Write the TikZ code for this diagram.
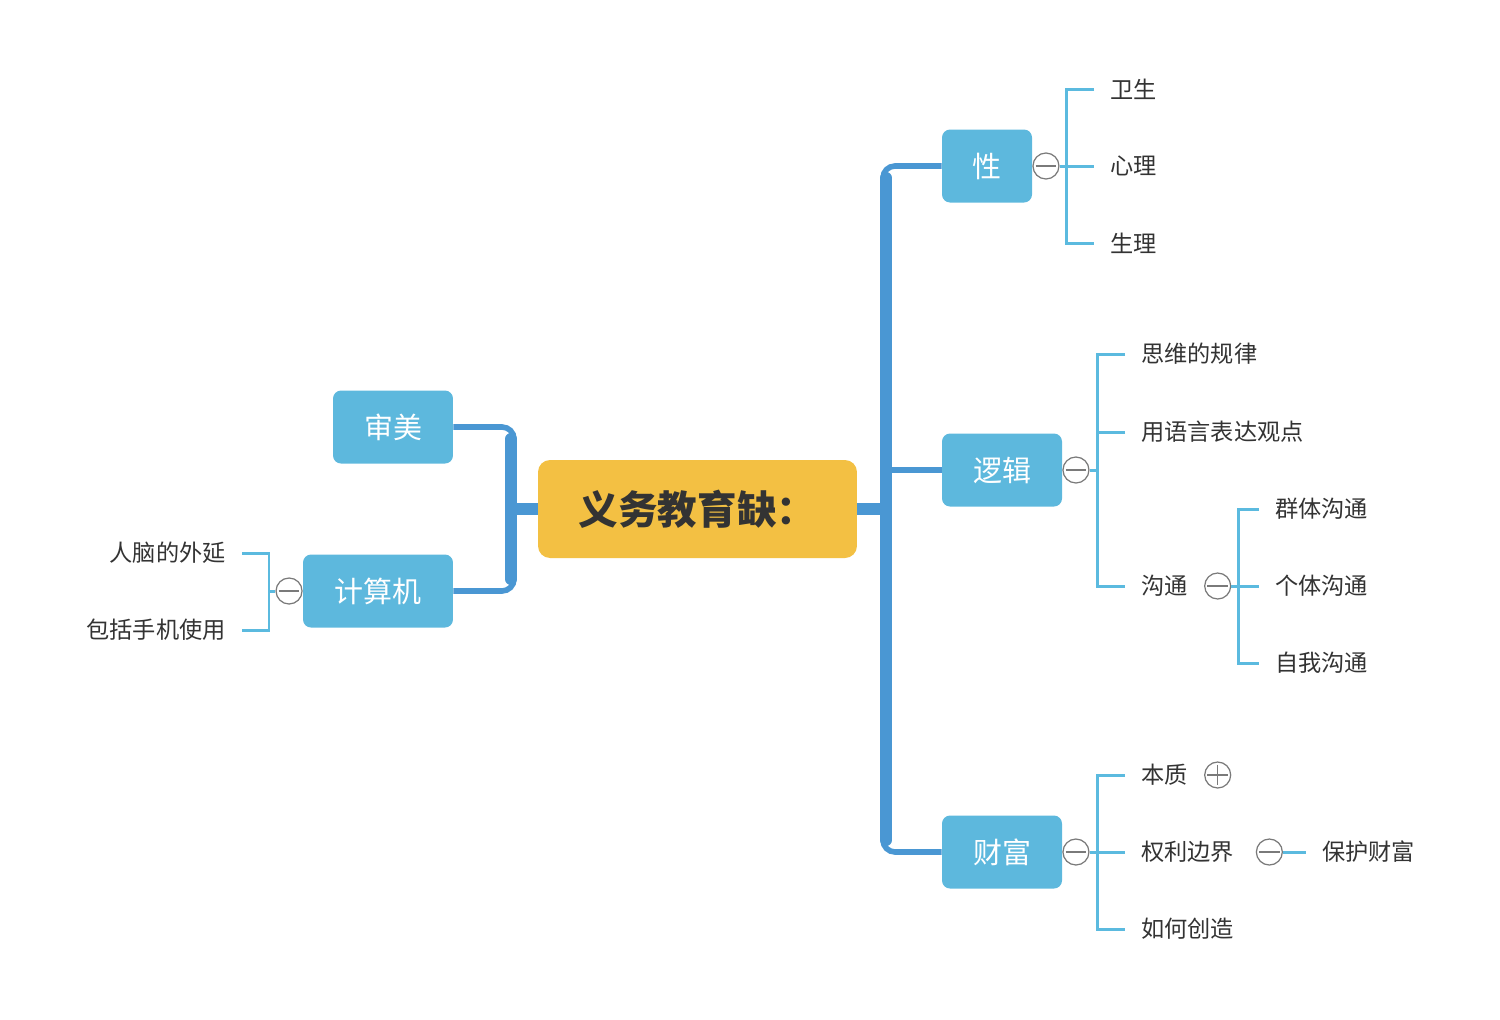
\documentclass[tikz,border=0pt]{standalone}
\usepackage{fontspec}
\setmainfont{Noto Sans CJK SC}
\usetikzlibrary{positioning}

\definecolor{rootyellow}{HTML}{F3C043}
\definecolor{boxblue}{HTML}{5DB8DD}
\definecolor{trunkblue}{HTML}{4A97D3}
\definecolor{twigblue}{HTML}{5BBADF}
\definecolor{textgray}{HTML}{333333}
\definecolor{foldgray}{HTML}{7A7A7A}

\begin{document}
\begin{tikzpicture}[
        x=0.02cm, y=-0.02cm,
        node distance=0pt,
        rootnode/.style={rectangle, rounded corners=0.24cm, fill=rootyellow, text=textgray, font=\fontsize{22.5}{26}\selectfont\bfseries, minimum width=6.38cm, minimum height=1.96cm, inner sep=0pt},
        topicnode/.style={rectangle, rounded corners=0.16cm, fill=boxblue, text=white, font=\fontsize{16.5}{20}\selectfont, minimum height=1.46cm, inner sep=0pt},
        leafnode/.style={inner xsep=0.32cm, inner ysep=0pt, text=textgray, font=\fontsize{13.2}{16}\selectfont},
        foldnode/.style={circle, draw=foldgray, fill=white, line width=0.7pt, minimum size=0.52cm, inner sep=0pt},
        foldminus/.style={foldnode, path picture={\draw[foldgray, line width=0.7pt] ([xshift=1.5pt]path picture bounding box.west) -- ([xshift=-1.5pt]path picture bounding box.east);}},
        foldplus/.style={foldnode, path picture={\draw[foldgray, line width=0.7pt] ([xshift=1.5pt]path picture bounding box.west) -- ([xshift=-1.5pt]path picture bounding box.east) ([yshift=-1.5pt]path picture bounding box.north) -- ([yshift=1.5pt]path picture bounding box.south);}},
        stem/.style={draw=trunkblue, line width=6.8pt},
        trunk/.style={draw=trunkblue, line width=6.8pt, line cap=round},
        branch/.style={draw=trunkblue, line width=3.2pt, rounded corners=0.24cm},
        twig/.style={draw=twigblue, line width=1.7pt}
    ]

        \useasboundingbox (0,0) rectangle (1500,1019);

        \node [rootnode] (Root) at (697.5,509) {义务教育缺：};

        \node [topicnode, minimum width=2.4cm] (Shenmei) at (393,427) {审美};
        \node [topicnode, minimum width=3.0cm] (Jisuanji) at (378,591) {计算机};
        \node [topicnode, minimum width=1.8cm] (Xing) at (987,166) {性};
        \node [topicnode, minimum width=2.4cm] (Luoji) at (1002,470) {逻辑};
        \node [topicnode, minimum width=2.4cm] (Caifu) at (1002,852) {财富};

        % Left side
        \coordinate (LeftJoint) at (514,509);
        \coordinate (LeftTop) at (510.8,439);
        \coordinate (LeftBottom) at (510.8,579);
        \draw [stem] (Root.west) -- (LeftJoint);
        \draw [branch] (Shenmei.east) -| (LeftJoint) |- (Jisuanji.east);
        \draw [trunk] (LeftTop) -- (LeftBottom);

        \node [foldminus] (Fold0) [left=0pt of Jisuanji] {};
        \node [leafnode, anchor=east] (Rennao) at (242,553) {人脑的外延};
        \node [leafnode, anchor=east] (Baokuo) at (242,630) {包括手机使用};
        \coordinate (Bar0) at (269,591);
        \draw [twig] (Fold0.west) -- (Bar0);
        \draw [twig] (Rennao.east) -| (Bar0) |- (Baokuo.east);

        % Right side
        \coordinate (RightJoint) at (883,509);
        \coordinate (RightTop) at (886.2,178);
        \coordinate (RightBottom) at (886.2,840);
        \draw [stem] (Root.east) -- (RightJoint);
        \draw [branch] (Xing.west) -| (RightJoint) |- (Caifu.west);
        \draw [branch] (Luoji.west) -- (Luoji.west -| RightJoint);
        \draw [trunk] (RightTop) -- (RightBottom);

        % Xing
        \node [foldminus] (Fold1) [right=0pt of Xing] {};
        \node [leafnode, anchor=west] (Weisheng) at (1094,89) {卫生};
        \node [leafnode, anchor=west] (Xinli) at (1094,166) {心理};
        \node [leafnode, anchor=west] (Shengli) at (1094,243) {生理};
        \coordinate (Bar1) at (1066,166);
        \draw [twig] (Fold1.east) -- (Xinli.west);
        \draw [twig] (Weisheng.west) -| (Bar1) |- (Shengli.west);

        % Luoji
        \node [foldminus] (Fold2) [right=0pt of Luoji] {};
        \node [leafnode, anchor=west] (Siwei) at (1125,354) {思维的规律};
        \node [leafnode, anchor=west] (Yuyan) at (1125,432) {用语言表达观点};
        \node [leafnode, anchor=west] (Goutong) at (1125,586) {沟通};
        \coordinate (Bar2) at (1097,470);
        \draw [twig] (Fold2.east) -- (Bar2);
        \draw [twig] (Siwei.west) -| (Bar2) |- (Goutong.west);
        \draw [twig] (Yuyan.west) -- (Yuyan.west -| Bar2);

        \node [foldminus] (Fold3) [right=0pt of Goutong] {};
        \node [leafnode, anchor=west] (Qunti) at (1259,509) {群体沟通};
        \node [leafnode, anchor=west] (Geti) at (1259,586) {个体沟通};
        \node [leafnode, anchor=west] (Ziwo) at (1259,663) {自我沟通};
        \coordinate (Bar3) at (1238,586);
        \draw [twig] (Fold3.east) -- (Geti.west);
        \draw [twig] (Qunti.west) -| (Bar3) |- (Ziwo.west);

        % Caifu
        \node [foldminus] (Fold4) [right=0pt of Caifu] {};
        \node [leafnode, anchor=west] (Benzhi) at (1125,775) {本质};
        \node [leafnode, anchor=west] (Quanli) at (1125,852) {权利边界};
        \node [leafnode, anchor=west] (Chuangzao) at (1125,929) {如何创造};
        \coordinate (Bar4) at (1097,852);
        \draw [twig] (Fold4.east) -- (Quanli.west);
        \draw [twig] (Benzhi.west) -| (Bar4) |- (Chuangzao.west);

        \node [foldplus] (Fold5) [right=0pt of Benzhi] {};
        \node [foldminus] (Fold6) [right=3pt of Quanli] {};
        \node [leafnode, anchor=west] (Baohu) at (1306,852) {保护财富};
        \draw [twig] (Fold6.east) -- (Baohu.west);

    \end{tikzpicture}
\end{document}
